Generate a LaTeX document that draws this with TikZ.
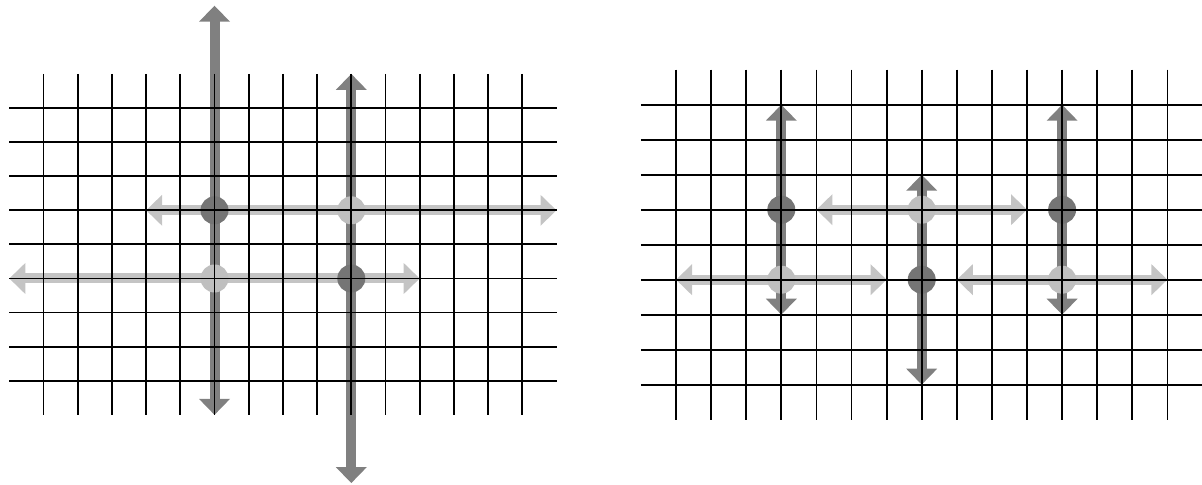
\documentclass[tikz,border=0pt]{standalone}
\usepackage{tikz}
\usetikzlibrary{arrows.meta}
\definecolor{darkgr}{gray}{0.5}
\definecolor{darkdotgr}{gray}{0.46}
\definecolor{lightgr}{gray}{0.77}
\definecolor{lightdotgr}{gray}{0.75}

\begin{document}
\begin{tikzpicture}[x=0.5pt, y=0.5pt,
    gridline/.style={line width=0.9pt, black},
    arr/.style={line width=5pt, {Triangle[width=15pt,length=8pt]}-{Triangle[width=15pt,length=8pt]}},
    dkarr/.style={arr, draw=darkgr},
    ltarr/.style={arr, draw=lightgr},
    dot/.style={circle, inner sep=0pt, minimum size=14pt},
    dkdot/.style={dot, fill=darkdotgr},
    ltdot/.style={dot, fill=lightdotgr}
]
\useasboundingbox (0,0) rectangle (1202,-485);

% left grid
\begin{scope}[shift={(43.5,-108)}, x=17.1pt, y=-17.05pt]
\coordinate (la1) at (5,-3);
\coordinate (la2) at (5,9);
\coordinate (lb1) at (9,-1);
\coordinate (lb2) at (9,11);
\coordinate (lc1) at (3,3);
\coordinate (lc2) at (15,3);
\coordinate (ld1) at (-1,5);
\coordinate (ld2) at (11,5);
\draw[dkarr] (la1) -- (la2);
\draw[dkarr] (lb1) -- (lb2);
\draw[ltarr] (lc1) -- (lc2);
\draw[ltarr] (ld1) -- (ld2);
\node[dkdot] (lx1) at (5,3) {};
\node[dkdot] (lx2) at (9,5) {};
\node[ltdot] (ly1) at (5,5) {};
\node[ltdot] (ly2) at (9,3) {};
\foreach \i in {0,...,14} \draw[gridline] (\i,-1) -- (\i,9);
\foreach \j in {0,...,8} \draw[gridline] (-1,\j) -- (15,\j);
\end{scope}

% right grid
\begin{scope}[shift={(676,-104.7)}, x=17.55pt, y=-17.5pt]
\coordinate (ra1) at (3,0);
\coordinate (ra2) at (3,6);
\coordinate (rb1) at (11,0);
\coordinate (rb2) at (11,6);
\coordinate (rc1) at (7,2);
\coordinate (rc2) at (7,8);
\coordinate (rd1) at (4,3);
\coordinate (rd2) at (10,3);
\coordinate (re1) at (0,5);
\coordinate (re2) at (6,5);
\coordinate (rf1) at (8,5);
\coordinate (rf2) at (14,5);
\draw[dkarr] (ra1) -- (ra2);
\draw[dkarr] (rb1) -- (rb2);
\draw[dkarr] (rc1) -- (rc2);
\draw[ltarr] (rd1) -- (rd2);
\draw[ltarr] (re1) -- (re2);
\draw[ltarr] (rf1) -- (rf2);
\node[dkdot] (rx1) at (3,3) {};
\node[dkdot] (rx2) at (11,3) {};
\node[dkdot] (rx3) at (7,5) {};
\node[ltdot] (ry1) at (3,5) {};
\node[ltdot] (ry2) at (11,5) {};
\node[ltdot] (ry3) at (7,3) {};
\foreach \i in {0,...,14} \draw[gridline] (\i,-1) -- (\i,9);
\foreach \j in {0,...,8} \draw[gridline] (-1,\j) -- (15,\j);
\end{scope}
\end{tikzpicture}
\end{document}
